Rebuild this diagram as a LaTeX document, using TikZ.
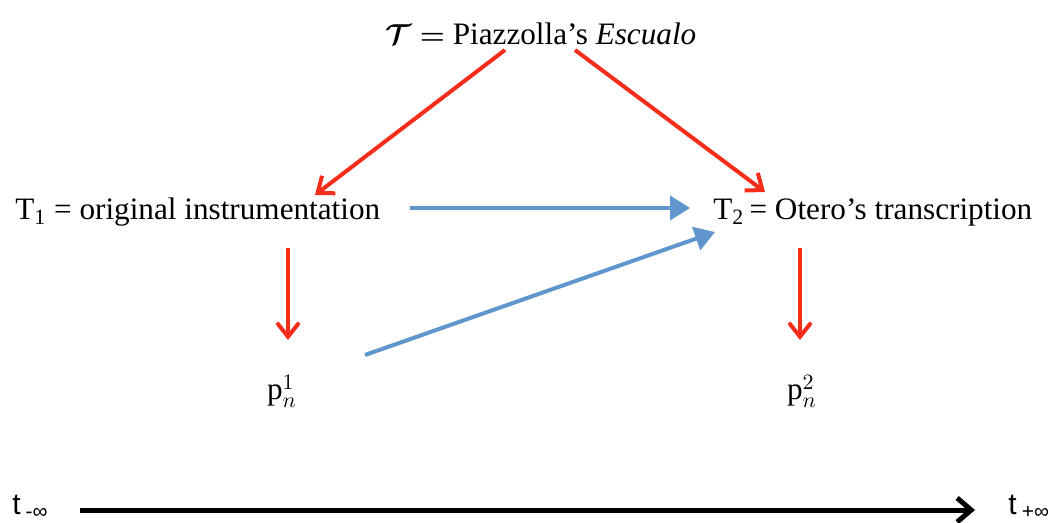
\documentclass[tikz,border=0pt]{standalone}
\usepackage{amsmath,amssymb}
\usepackage{fontspec}
\setmainfont{Liberation Serif}
\setsansfont{Liberation Sans}
\usetikzlibrary{arrows.meta}
\definecolor{redarr}{RGB}{245,45,25}
\definecolor{bluearr}{RGB}{95,150,205}
\tikzset{
  redline/.style={draw=redarr,line width=2pt,-{Straight Barb[length=7pt,width=11pt]}},
  blueline/.style={draw=bluearr,line width=2pt,-{Triangle[length=10pt,width=12pt]}},
  timeline/.style={draw=black,line width=2.5pt,-{Straight Barb[length=7pt,width=12pt]}}
}

\begin{document}
\begin{tikzpicture}[x=0.5pt,y=-0.5pt,every node/.style={font=\fontsize{15.6}{18}\selectfont,inner sep=0pt}]
    \useasboundingbox (0,0) rectangle (1054,523);
    \node[anchor=base] (theme) at (541,45) {$\boldsymbol{\mathcal{T}}$ $\boldsymbol{=}$ Piazzolla's \textit{Escualo}};
    \node[anchor=base west] (tone) at (15,220) {T\textsubscript{1} = original instrumentation};
    \node[anchor=base west] (ttwo) at (713,220) {T\textsubscript{2}\,= Otero's transcription};
    \node[anchor=base] (pone) at (282,400) {$\mathrm{p}_n^1$};
    \node[anchor=base] (ptwo) at (802,400) {$\mathrm{p}_n^2$};
    \node[anchor=base west,font=\sffamily\fontsize{15}{18}\selectfont] (tmin) at (12,514) {t\,\textsubscript{-∞}};
    \node[anchor=base west,font=\sffamily\fontsize{15}{18}\selectfont] (tmax) at (1008,514) {t\,\textsubscript{+∞}};
    \draw[redline] ([shift={(-36,5)}]theme.base) -- ([shift={(300,-25)}]tone.base west);
    \draw[redline] ([shift={(34,5)}]theme.base) -- ([shift={(52,-28)}]ttwo.base west);
    \draw[redline] ([shift={(273,28)}]tone.base west) -- ([shift={(6,-60)}]pone.base);
    \draw[redline] ([shift={(87,28)}]ttwo.base west) -- ([shift={(-2,-60)}]ptwo.base);
    \draw[blueline] ([shift={(395,-12)}]tone.base west) -- ([shift={(-23,-12)}]ttwo.base west);
    \draw[blueline] ([shift={(83,-45)}]pone.base) -- ([shift={(2,12)}]ttwo.base west);
    \draw[timeline] ([shift={(68,-4)}]tmin.base west) -- ([shift={(-33,-4)}]tmax.base west);
\end{tikzpicture}
\end{document}
